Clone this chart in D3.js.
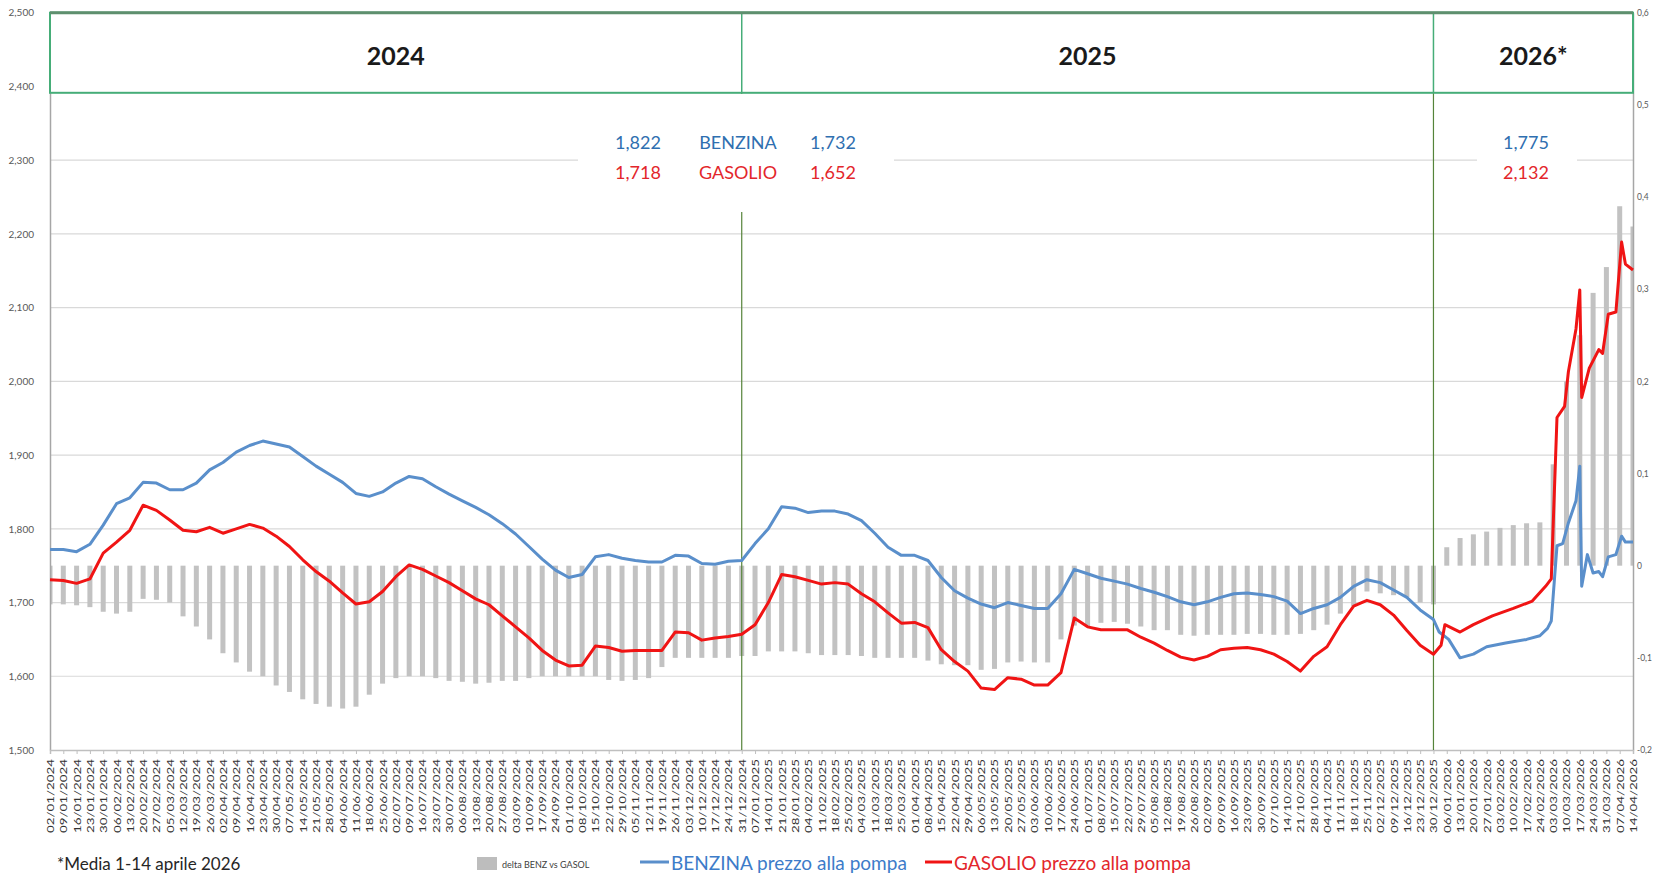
<!DOCTYPE html>
<html>
<head>
<meta charset="UTF-8">
<style>
  body { margin: 0; background: #fff; overflow: hidden; }
  svg text { font-family: Lato, "Open Sans", sans-serif; }
</style>
</head>
<body>
<svg id="chart"></svg>
<script src="https://d3js.org/d3.v7.min.js"></script>
<script>
const width = 1654, height = 875;

// weekly categories (tuesdays) from first to last week
const firstWeek = "2024-01-02", lastWeek = "2026-04-14";
const yearLabels = ["2024", "2025", "2026*"];
const yearBreaks = ["2024-12-31", "2025-12-30"];

// weekly pump prices 02/01/2024 .. 30/12/2025 (euro/litre)
const benzWeekly = [
  1.772, 1.772, 1.769, 1.779, 1.805, 1.834, 1.842, 1.863, 1.862, 1.853,
  1.853, 1.862, 1.880, 1.890, 1.904, 1.913, 1.919, 1.915, 1.911, 1.898,
  1.885, 1.874, 1.863, 1.848, 1.844, 1.850, 1.862, 1.871, 1.868, 1.857,
  1.847, 1.838, 1.829, 1.819, 1.807, 1.793, 1.776, 1.759, 1.744, 1.734,
  1.738, 1.762, 1.765, 1.760, 1.757, 1.755, 1.755, 1.764, 1.763, 1.753,
  1.752, 1.756, 1.757, 1.780, 1.800, 1.830, 1.828, 1.822, 1.824, 1.824,
  1.820, 1.811, 1.794, 1.775, 1.764, 1.764, 1.757, 1.734, 1.716, 1.706,
  1.698, 1.693, 1.700, 1.696, 1.692, 1.692, 1.712, 1.745, 1.739, 1.733,
  1.729, 1.725, 1.719, 1.714, 1.708, 1.701, 1.697, 1.701, 1.707, 1.712,
  1.713, 1.711, 1.708, 1.702, 1.685, 1.692, 1.697, 1.707, 1.722, 1.731,
  1.727, 1.717, 1.707, 1.690, 1.677
];
const gasWeekly = [
  1.731, 1.730, 1.726, 1.732, 1.767, 1.782, 1.798, 1.832, 1.825, 1.812,
  1.798, 1.796, 1.802, 1.794, 1.800, 1.806, 1.801, 1.790, 1.776, 1.758,
  1.742, 1.729, 1.713, 1.698, 1.701, 1.715, 1.735, 1.751, 1.745, 1.736,
  1.727, 1.716, 1.705, 1.697, 1.682, 1.667, 1.652, 1.635, 1.622, 1.614,
  1.615, 1.641, 1.639, 1.634, 1.635, 1.635, 1.635, 1.660, 1.659, 1.649,
  1.652, 1.654, 1.657, 1.670, 1.700, 1.738, 1.735, 1.730, 1.725, 1.727,
  1.725, 1.712, 1.701, 1.686, 1.672, 1.673, 1.666, 1.636, 1.620, 1.607,
  1.584, 1.582, 1.598, 1.596, 1.588, 1.588, 1.605, 1.679, 1.667, 1.663,
  1.663, 1.663, 1.653, 1.645, 1.635, 1.626, 1.622, 1.627, 1.636, 1.638,
  1.639, 1.636, 1.630, 1.620, 1.607, 1.627, 1.640, 1.670, 1.695, 1.703,
  1.697, 1.683, 1.662, 1.642, 1.630
];
// 2026 prices, daily detail where prices moved fast
const benz2026 = [
  ["2026-01-02", 1.660], ["2026-01-07", 1.650], ["2026-01-13", 1.625], ["2026-01-20", 1.630],
  ["2026-01-27", 1.640], ["2026-02-06", 1.645], ["2026-02-17", 1.650], ["2026-02-24", 1.655],
  ["2026-02-28", 1.665], ["2026-03-02", 1.675], ["2026-03-05", 1.777], ["2026-03-08", 1.780],
  ["2026-03-11", 1.808], ["2026-03-15", 1.838], ["2026-03-17", 1.885], ["2026-03-18", 1.722],
  ["2026-03-21", 1.765], ["2026-03-24", 1.740], ["2026-03-27", 1.742], ["2026-03-29", 1.735],
  ["2026-04-01", 1.762], ["2026-04-05", 1.765], ["2026-04-08", 1.790], ["2026-04-10", 1.782],
  ["2026-04-14", 1.782]
];
const gas2026 = [
  ["2026-01-03", 1.642], ["2026-01-05", 1.670], ["2026-01-13", 1.660], ["2026-01-20", 1.670],
  ["2026-01-30", 1.682], ["2026-02-10", 1.692], ["2026-02-20", 1.702], ["2026-02-27", 1.722],
  ["2026-03-02", 1.732], ["2026-03-05", 1.951], ["2026-03-09", 1.966], ["2026-03-11", 2.013],
  ["2026-03-15", 2.071], ["2026-03-17", 2.124], ["2026-03-18", 1.978], ["2026-03-22", 2.018],
  ["2026-03-27", 2.043], ["2026-03-29", 2.038], ["2026-04-01", 2.091], ["2026-04-05", 2.094],
  ["2026-04-08", 2.189], ["2026-04-10", 2.159], ["2026-04-14", 2.151]
];
// weekly delta gasolio - benzina (right axis)
const deltaWeekly = [
  -0.042, -0.042, -0.043, -0.045, -0.050, -0.052, -0.050, -0.036, -0.037, -0.040,
  -0.055, -0.066, -0.080, -0.095, -0.105, -0.115, -0.120, -0.130, -0.137, -0.145,
  -0.150, -0.153, -0.155, -0.153, -0.140, -0.128, -0.122, -0.120, -0.120, -0.122,
  -0.125, -0.126, -0.128, -0.127, -0.125, -0.125, -0.122, -0.120, -0.120, -0.120,
  -0.120, -0.120, -0.124, -0.125, -0.124, -0.122, -0.110, -0.100, -0.100, -0.100,
  -0.100, -0.100, -0.098, -0.098, -0.093, -0.093, -0.093, -0.095, -0.097, -0.097,
  -0.097, -0.098, -0.100, -0.100, -0.100, -0.100, -0.103, -0.107, -0.108, -0.108,
  -0.113, -0.112, -0.105, -0.104, -0.105, -0.105, -0.080, -0.065, -0.066, -0.062,
  -0.061, -0.063, -0.066, -0.070, -0.070, -0.075, -0.076, -0.075, -0.075, -0.075,
  -0.074, -0.074, -0.075, -0.075, -0.074, -0.070, -0.064, -0.052, -0.044, -0.028,
  -0.030, -0.032, -0.034, -0.040, -0.042, 0.020, 0.030, 0.034, 0.037, 0.041,
  0.044, 0.046, 0.047, 0.110, 0.200, 0.250, 0.296, 0.324, 0.390, 0.368
];

// yearly averages shown in the boxes
const avgBenz = ["1,822", "1,732", "1,775"];
const avgGas = ["1,718", "1,652", "2,132"];

const blue = "#5a8fcb", red = "#f01414";
const blueText = "#2f6fb0", redText = "#e3262b";
const boxGreen = "#46ad78", lineGreen = "#55843a";

const parse = d3.timeParse("%Y-%m-%d");
const plotL = 50, plotR = 1633, plotT = 12.7, plotB = 750, boxB = 92.8;

const svg = d3.select("#chart")
  .attr("width", width)
  .attr("height", height);

const weeks = d3.timeDay.range(parse(firstWeek), d3.timeDay.offset(parse(lastWeek), 1), 7);

const x = d3.scaleTime()
  .domain([parse(firstWeek), parse(lastWeek)])
  .range([plotL, plotR]);
const yL = d3.scaleLinear().domain([1.5, 2.5]).range([plotB, plotT]);
const yR = d3.scaleLinear().domain([-0.2, 0.6]).range([plotB, plotT]);

const it = d3.formatLocale({ decimal: ",", thousands: ".", grouping: [3], currency: ["€", ""], minus: "-" });
const fmtL = it.format(".3f");
const fmtR = it.format(".1~f");

svg.append("defs").append("clipPath").attr("id", "plot")
  .append("rect").attr("x", plotL).attr("y", plotT).attr("width", plotR - plotL).attr("height", plotB - plotT);

// gridlines
svg.append("g")
  .selectAll("line")
  .data(d3.range(16, 25).map(d => d / 10))
  .join("line")
  .attr("x1", plotL).attr("x2", plotR)
  .attr("y1", d => yL(d)).attr("y2", d => yL(d))
  .attr("stroke", "#d9d9d9").attr("stroke-width", 1.2);

// delta bars
svg.append("g")
  .attr("clip-path", "url(#plot)")
  .selectAll("rect")
  .data(deltaWeekly)
  .join("rect")
  .attr("x", (d, i) => x(weeks[i]) - 2.5)
  .attr("width", 5)
  .attr("y", d => yR(Math.max(0, d)))
  .attr("height", d => Math.abs(yR(d) - yR(0)))
  .attr("fill", "#c2c2c2");

// left axis
const axL = svg.append("g")
  .attr("transform", `translate(${plotL},0)`)
  .call(d3.axisLeft(yL).tickValues(d3.range(15, 26).map(d => d / 10)).tickFormat(fmtL).tickSize(0).tickPadding(16));
axL.select(".domain").attr("stroke", "#a6a6a6").attr("stroke-width", 1.5);
axL.selectAll("text").attr("font-size", 10).attr("fill", "#595959").style("font-family", "Lato, sans-serif");

// right axis (squeezed against the page edge)
const axR = svg.append("g")
  .attr("transform", `translate(${plotR},0)`)
  .call(d3.axisRight(yR).tickValues(d3.range(-2, 7).map(d => d / 10)).tickFormat(fmtR).tickSize(0).tickPadding(4));
axR.select(".domain").attr("stroke", "#a6a6a6").attr("stroke-width", 1.5);
axR.selectAll("text").attr("font-size", 8.5).attr("fill", "#595959").style("font-family", "Lato, sans-serif");

// bottom axis with weekly dates
const axB = svg.append("g")
  .attr("transform", `translate(0,${plotB})`)
  .call(d3.axisBottom(x).tickValues(weeks).tickFormat(d3.timeFormat("%d/%m/%Y")).tickSize(4));
axB.select(".domain").attr("stroke", "#bfbfbf").attr("stroke-width", 1.5);
axB.selectAll(".tick line").attr("stroke", "#bfbfbf");
axB.selectAll("text")
  .attr("transform", "rotate(-90)")
  .attr("x", -9).attr("y", 0).attr("dy", "0.35em")
  .attr("text-anchor", "end")
  .attr("font-size", 10)
  .attr("textLength", 74)
  .attr("lengthAdjust", "spacingAndGlyphs")
  .attr("fill", "#333")
  .style("font-family", "Lato, sans-serif");

// year dividers in the plot
svg.append("g")
  .selectAll("line")
  .data(yearBreaks)
  .join("line")
  .attr("x1", d => x(parse(d))).attr("x2", d => x(parse(d)))
  .attr("y1", boxB).attr("y2", plotB)
  .attr("stroke", lineGreen).attr("stroke-width", 1.2);

// price lines
const line = d3.line().x(d => x(d[0])).y(d => yL(d[1]));
const benzData = benzWeekly.map((v, i) => [weeks[i], v]).concat(benz2026.map(d => [parse(d[0]), d[1]]));
const gasData = gasWeekly.map((v, i) => [weeks[i], v]).concat(gas2026.map(d => [parse(d[0]), d[1]]));

svg.append("path").datum(benzData)
  .attr("d", line).attr("fill", "none")
  .attr("stroke", blue).attr("stroke-width", 3).attr("stroke-linejoin", "round");
svg.append("path").datum(gasData)
  .attr("d", line).attr("fill", "none")
  .attr("stroke", red).attr("stroke-width", 3).attr("stroke-linejoin", "round");

// year header box
const bounds = [parse(firstWeek), parse(yearBreaks[0]), parse(yearBreaks[1]), parse(lastWeek)].map(d => x(d));
svg.append("rect")
  .attr("x", plotL).attr("y", plotT).attr("width", plotR - plotL).attr("height", boxB - plotT)
  .attr("fill", "#fff").attr("stroke", boxGreen).attr("stroke-width", 2);
svg.append("g")
  .selectAll("line")
  .data(bounds.slice(1, 3))
  .join("line")
  .attr("x1", d => d).attr("x2", d => d)
  .attr("y1", plotT).attr("y2", boxB)
  .attr("stroke", boxGreen).attr("stroke-width", 1.5);
svg.append("line")
  .attr("x1", plotL).attr("x2", plotR).attr("y1", plotT).attr("y2", plotT)
  .attr("stroke", "#5e8f6e").attr("stroke-width", 3);
svg.append("g")
  .selectAll("text")
  .data(yearLabels)
  .join("text")
  .attr("x", (d, i) => (bounds[i] + bounds[i + 1]) / 2)
  .attr("y", 55)
  .attr("text-anchor", "middle")
  .attr("dominant-baseline", "central")
  .attr("font-size", 25)
  .attr("font-weight", "bold")
  .attr("fill", "#1a1a1a")
  .text(d => d);

// averages boxes
svg.append("rect").attr("x", 578).attr("y", 94).attr("width", 316).attr("height", 118).attr("fill", "#fff");
svg.append("rect").attr("x", 1477).attr("y", 100).attr("width", 100).attr("height", 100).attr("fill", "#fff");

const avgCols = [
  { x: 638, i: 0 }, { x: 833, i: 1 }, { x: 1526, i: 2 }
];
const avg = svg.append("g").attr("font-size", 18).attr("text-anchor", "middle").attr("dominant-baseline", "central");
avgCols.forEach(c => {
  avg.append("text").attr("x", c.x).attr("y", 141.5).attr("fill", blueText).text(avgBenz[c.i]);
  avg.append("text").attr("x", c.x).attr("y", 172).attr("fill", redText).text(avgGas[c.i]);
});
avg.append("text").attr("x", 738).attr("y", 141.5).attr("fill", blueText).text("BENZINA");
avg.append("text").attr("x", 738).attr("y", 172).attr("fill", redText).text("GASOLIO");

// legend
const leg = svg.append("g");
leg.append("rect").attr("x", 477).attr("y", 857).attr("width", 20).attr("height", 13).attr("fill", "#bdbdbd");
leg.append("text").attr("x", 502).attr("y", 864).attr("font-size", 9).attr("dominant-baseline", "central")
  .attr("fill", "#404040").text("delta BENZ vs GASOL");
leg.append("line").attr("x1", 640).attr("x2", 669).attr("y1", 862).attr("y2", 862)
  .attr("stroke", blue).attr("stroke-width", 3);
leg.append("text").attr("x", 671).attr("y", 862).attr("font-size", 19).attr("dominant-baseline", "central")
  .attr("fill", "#3d7cc9").text("BENZINA prezzo alla pompa");
leg.append("line").attr("x1", 925).attr("x2", 952).attr("y1", 862).attr("y2", 862)
  .attr("stroke", red).attr("stroke-width", 3);
leg.append("text").attr("x", 954).attr("y", 862).attr("font-size", 19).attr("dominant-baseline", "central")
  .attr("fill", redText).text("GASOLIO prezzo alla pompa");

// footnote
svg.append("text").attr("x", 57).attr("y", 870).attr("font-size", 17).attr("fill", "#262626")
  .text("*Media 1-14 aprile 2026");
</script>
</body>
</html>
